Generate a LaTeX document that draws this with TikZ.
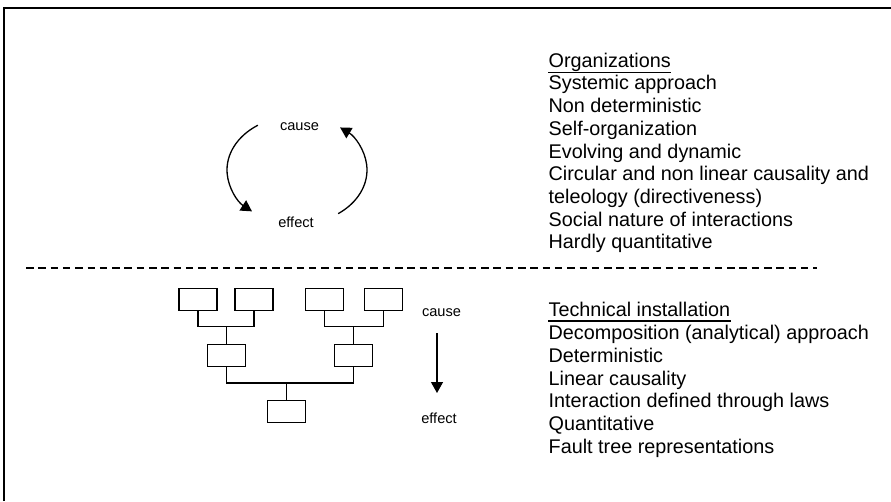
\documentclass[tikz,border=0pt]{standalone}
\usepackage{fontspec}
\setmainfont{Liberation Sans}
\usetikzlibrary{arrows.meta,positioning}

\begin{document}
\begin{tikzpicture}[
        x=1pt, y=1pt,
        >={Triangle[width=12pt,length=11pt]},
        line width=1.3pt,
        box/.style={draw, inner sep=0pt, minimum width=38pt, minimum height=22pt},
        item/.style={anchor=base west, inner sep=0pt, font=\fontsize{19.8pt}{22.7pt}\selectfont},
        lbl/.style={anchor=base, inner sep=0pt, font=\fontsize{14.6pt}{17pt}\selectfont},
        sep/.style={dash pattern=on 7.5pt off 4.8pt},
        uline/.style={line width=1.1pt}
    ]
        \useasboundingbox (0,0) rectangle (891,501);

        % Frame (top and left edge)
        \draw (4,0) -- (4,493) -- (891,493);

        % Dividing line
        \draw[sep] (26,233) -- (817,233);

        % Circular causality
        \coordinate (loop) at (297,331);
        \node[lbl] (cause1) at (299.5,370) {cause};
        \node[lbl] (effect1) at (296,273) {effect};
        \draw[->] (loop) ++(124:70pt and 54pt) arc[start angle=124, end angle=230, x radius=70pt, y radius=54pt];
        \draw[->] (loop) ++(-54:70pt and 54pt) arc[start angle=-54, end angle=52, x radius=70pt, y radius=54pt];

        % Fault tree
        \node[box] (root) at (286.5,89.5) {};
        \node[box] (mid1) at (226.5,145.5) {};
        \node[box] (mid2) at (353.5,145.5) {};
        \node[box] (leaf1) at (198,201.5) {};
        \node[box] (leaf2) at (254,201.5) {};
        \node[box] (leaf3) at (324.5,201.5) {};
        \node[box] (leaf4) at (383.5,201.5) {};

        \path (mid1.north) ++(0,17) coordinate (join1);
        \path (mid2.north) ++(0,17) coordinate (join2);
        \path (root.north) ++(0,17) coordinate (join3);

        \draw (leaf1.south) |- (join1) -| (leaf2.south);
        \draw (join1) -- (mid1.north);
        \draw (leaf3.south) |- (join2) -| (leaf4.south);
        \draw (join2) -- (mid2.north);
        \draw (mid1.south) |- (join3) -| (mid2.south);
        \draw (join3) -- (root.north);

        % Linear causality
        \node[lbl] (cause2) at (441.5,184) {cause};
        \node[lbl] (effect2) at (439,78) {effect};
        \coordinate (down1) at (437,168);
        \coordinate (down2) at (437,108);
        \draw[->] (down1) -- (down2);

        % Organizations
        \foreach \txt [count=\i] in {Organizations, Systemic approach, Non deterministic,
            Self-organization, Evolving and dynamic, Circular and non linear causality and,
            {teleology (directiveness)}, Social nature of interactions, Hardly quantitative}
            \node[item] (org\i) at (548,{433.7-22.7*(\i-1)}) {\txt};
        \draw[uline] ([yshift=-5.5pt]org1.base west) -- ([yshift=-5.5pt]org1.base east);

        % Technical installation
        \foreach \txt [count=\i] in {Technical installation, {Decomposition (analytical) approach},
            Deterministic, Linear causality, Interaction defined through laws,
            Quantitative, Fault tree representations}
            \node[item] (tech\i) at (548,{184-22.7*(\i-1)}) {\txt};
        \draw[uline] ([yshift=-4pt]tech1.base west) -- ([yshift=-4pt]tech1.base east);
    \end{tikzpicture}
\end{document}
